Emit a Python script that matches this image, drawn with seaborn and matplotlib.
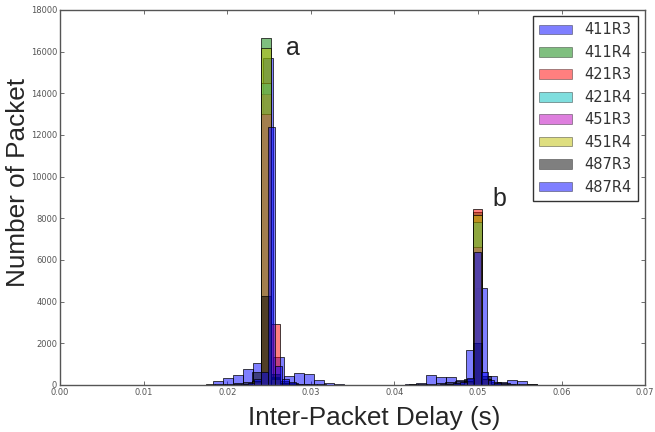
import numpy as np
import pandas as pd
import matplotlib
matplotlib.use("Agg")
import matplotlib.pyplot as plt
import seaborn as sns
from matplotlib.patches import Patch

# Series names and (classic matplotlib) colours
names = ['411R3', '411R4', '421R3', '421R4', '451R3', '451R4', '487R3', '487R4']
colors = ['b', 'g', 'r', 'c', 'm', 'y', 'k', 'b']

# 411R3: wide bins, start 0.01825, width 0.001214
c_411R3 = [170, 350, 480, 760, 1050, 15700, 1340, 430, 590, 530, 240, 110, 30, 10,
           0, 0, 0, 0, 0, 20, 110, 480, 400, 380, 240, 1680, 4660, 450, 160, 240,
           200, 50]

# 411R4 .. 487R3: shared bins, start 0.0175, width 0.0011
# (index 6 ~ peak a, index 29 ~ peak b)
c_411R4 = [0, 0, 0, 10, 40, 200, 16650, 300, 60, 20, 10, 0, 0, 0, 0, 0, 0, 0, 0,
           0, 0, 0, 0, 0, 0, 0, 20, 60, 200, 8320, 250, 50, 10, 0, 0, 0, 0]
c_421R3 = [0, 0, 0, 10, 30, 150, 13950, 2900, 80, 20, 10, 0, 0, 0, 0, 0, 0, 0, 0,
           0, 0, 0, 0, 0, 0, 0, 20, 50, 150, 8430, 300, 60, 10, 0, 0, 0, 0]
c_421R4 = [0, 0, 0, 10, 30, 180, 14500, 400, 70, 20, 0, 0, 0, 0, 0, 0, 0, 0, 0,
           0, 0, 0, 0, 0, 0, 0, 20, 40, 180, 7800, 280, 40, 10, 0, 0, 0, 0]
c_451R3 = [0, 0, 0, 10, 30, 160, 13000, 350, 60, 20, 0, 0, 0, 0, 0, 0, 0, 0, 0,
           0, 0, 0, 0, 0, 0, 0, 20, 40, 160, 6600, 300, 50, 10, 0, 0, 0, 0]
c_451R4 = [0, 0, 0, 10, 30, 170, 16150, 300, 60, 20, 0, 0, 0, 0, 0, 0, 0, 0, 0,
           0, 0, 0, 0, 0, 0, 0, 20, 40, 170, 8150, 260, 40, 10, 0, 0, 0, 0]
c_487R3 = [30, 40, 60, 80, 150, 600, 4250, 500, 200, 80, 50, 30, 20, 10, 0, 0, 0, 0, 0,
           0, 0, 0, 20, 40, 60, 80, 120, 200, 300, 2000, 450, 150, 80, 50, 30, 20, 0]

# 487R4: fine bins, start 0.01752, width 0.00082 (index 9 ~ peak a, 39 ~ peak b)
c_487R4 = [0, 0, 0, 0, 20, 40, 100, 300, 600, 12400, 900, 300, 150, 60, 20, 0, 0,
           0, 0, 0, 0, 0, 0, 0, 0, 0, 0, 0, 0, 0, 0, 0, 0, 0, 20, 40, 80, 150,
           350, 6400, 600, 250, 100, 40, 20, 0, 0, 0, 0, 0]

# bin layouts: (start, width) per group
wide_bins = (0.01825, 0.001214)
shared_bins = (0.0175, 0.0011)
fine_bins = (0.01752, 0.00082)

series_bins = [wide_bins] + [shared_bins] * 6 + [fine_bins]
series_counts = [c_411R3, c_411R4, c_421R3, c_421R4, c_451R3, c_451R4, c_487R3, c_487R4]

x_ticks = [0.00, 0.01, 0.02, 0.03, 0.04, 0.05, 0.06, 0.07]
y_ticks = [0, 2000, 4000, 6000, 8000, 10000, 12000, 14000, 16000, 18000]

sns.set_style("white")
plt.rcParams['font.family'] = ['DejaVu Sans']

fig, ax = plt.subplots(figsize=(6.55, 4.32), dpi=100)
fig.subplots_adjust(left=0.0916, right=0.985, bottom=0.109, top=0.977)

for col, (start, width), counts in zip(colors, series_bins, series_counts):
    edges = start + width * np.arange(len(counts) + 1)
    df = pd.DataFrame({'delay': edges[:-1] + width / 2, 'count': counts})
    sns.histplot(data=df, x='delay', weights='count', bins=edges.tolist(),
                 color=col, alpha=0.5, edgecolor='black', linewidth=0.5, ax=ax)

ax.set_xlim(0, 0.07)
ax.set_ylim(0, 18000)
ax.set_xticks(x_ticks)
ax.set_xticklabels([f"{t:.2f}" for t in x_ticks])
ax.set_yticks(y_ticks)
ax.set_yticklabels([str(t) for t in y_ticks])
ax.tick_params(direction='in', length=3, width=0.6, labelsize=6, colors='#555555',
               top=True, right=True, bottom=True, left=True, pad=2)
for sp in ax.spines.values():
    sp.set_color('#555555')
    sp.set_linewidth(1.0)

ax.set_xlabel('Inter-Packet Delay (s)', fontsize=18.8, family='Liberation Sans')
ax.set_ylabel('Number of Packet', fontsize=18.8, family='Liberation Sans')
ax.xaxis.set_label_coords(0.537, -0.056)
ax.yaxis.set_label_coords(-0.051, 0.541)

ax.text(0.0279, 16180, 'a', fontsize=18, family='Liberation Sans', ha='center', va='center')
ax.text(0.0526, 8930, 'b', fontsize=18, family='Liberation Sans', ha='center', va='center')

handles = [Patch(facecolor=c, alpha=0.5, edgecolor='black', linewidth=0.5) for c in colors]
leg = ax.legend(handles, names, loc='upper right', bbox_to_anchor=(0.988, 0.984),
                borderaxespad=0, fontsize=10.5, labelspacing=0.51, handlelength=2.26,
                handleheight=0.64, handletextpad=0.82, fancybox=False, frameon=True,
                borderpad=0.45)
leg.get_frame().set_edgecolor('black')
leg.get_frame().set_linewidth(1.0)
for t in leg.get_texts():
    t.set_color('#333333')

fig.savefig('out.png', dpi=100)
